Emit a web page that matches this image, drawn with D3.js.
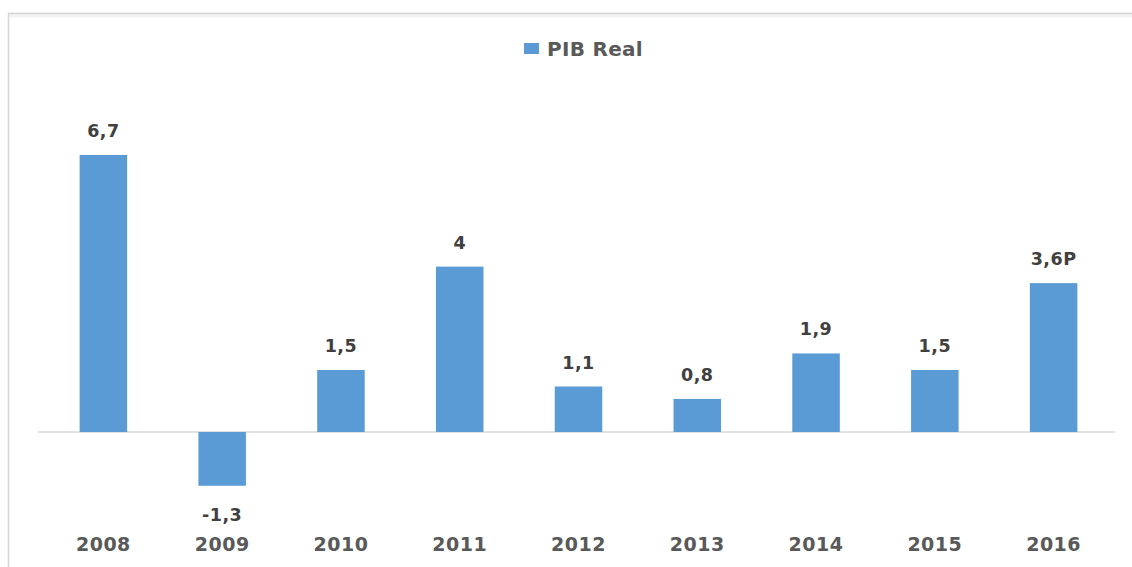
<!DOCTYPE html>
<html>
<head>
<meta charset="utf-8">
<script src="https://cdn.jsdelivr.net/npm/d3@7"></script>
<style>
  body { margin: 0; background: #ffffff; }
  svg { display: block; }
  .year text { font-family: "DejaVu Sans", sans-serif; font-weight: bold; font-size: 19px; letter-spacing: 0.5px; fill: #595959; }
  .valueLabel { font-family: "DejaVu Sans", sans-serif; font-weight: bold; font-size: 17.5px; letter-spacing: 0.5px; fill: #404040; }
  .legendText { font-family: "DejaVu Sans", sans-serif; font-weight: bold; font-size: 20px; letter-spacing: 0.3px; fill: #595959; }
</style>
</head>
<body>
<script>
// PIB Real per year
var years = ["2008", "2009", "2010", "2011", "2012", "2013", "2014", "2015", "2016"];
var pibReal = [6.7, -1.3, 1.5, 4, 1.1, 0.8, 1.9, 1.5, 3.6];
var valueLabels = ["6,7", "-1,3", "1,5", "4", "1,1", "0,8", "1,9", "1,5", "3,6P"];
var seriesName = "PIB Real";

var totalWidth = 1132;
var totalHeight = 567;
var barColor = "#5b9bd5";

var svg = d3.select("body")
            .append("svg")
            .attr("width", totalWidth)
            .attr("height", totalHeight);

// chart frame (top and left edges visible)
svg.append("line")
   .attr("x1", 8).attr("x2", totalWidth)
   .attr("y1", 13.5).attr("y2", 13.5)
   .attr("stroke", "#cfcfcf").attr("stroke-width", 1.5);
svg.append("line")
   .attr("x1", 9).attr("x2", totalWidth)
   .attr("y1", 16).attr("y2", 16)
   .attr("stroke", "#f2f2f2").attr("stroke-width", 3);
svg.append("line")
   .attr("x1", 8.5).attr("x2", 8.5)
   .attr("y1", 13).attr("y2", totalHeight)
   .attr("stroke", "#d6d6d6").attr("stroke-width", 1.5);

// scales
var xScale = d3.scaleBand()
               .domain(years)
               .range([44, 1113])
               .paddingInner(0.6)
               .paddingOuter(0.3);

var yScale = d3.scaleLinear()
               .domain([-2, 7.5])
               .range([432 + 2 * 41.35, 432 - 7.5 * 41.35]);

// zero line
svg.append("line")
   .attr("x1", 38).attr("x2", 1115)
   .attr("y1", yScale(0)).attr("y2", yScale(0))
   .attr("stroke", "#d9d9d9").attr("stroke-width", 1.5);

// bars
svg.selectAll(".bar")
   .data(pibReal)
   .enter()
   .append("rect")
   .attr("class", "bar")
   .attr("x", function(d, i) { return xScale(years[i]); })
   .attr("width", xScale.bandwidth())
   .attr("y", function(d) { return yScale(Math.max(0, d)); })
   .attr("height", function(d) { return Math.abs(yScale(d) - yScale(0)); })
   .attr("fill", barColor);

// value labels
svg.selectAll(".valueLabel")
   .data(pibReal)
   .enter()
   .append("text")
   .attr("class", "valueLabel")
   .attr("text-anchor", "middle")
   .attr("x", function(d, i) { return xScale(years[i]) + xScale.bandwidth() / 2; })
   .attr("y", function(d) { return d >= 0 ? yScale(d) - 18 : yScale(d) + 35; })
   .text(function(d, i) { return valueLabels[i]; });

// year axis
var xAxis = d3.axisBottom(xScale).tickSize(0).tickPadding(0);
var axisG = svg.append("g")
               .attr("class", "year")
               .attr("transform", "translate(0,537)")
               .call(xAxis);
axisG.select(".domain").remove();
axisG.selectAll("text").attr("dy", "0.75em").attr("font-family", null).attr("font-size", null);

// legend
var legend = svg.append("g").attr("class", "legend");
legend.append("rect")
      .attr("x", 524).attr("y", 43)
      .attr("width", 15).attr("height", 11)
      .attr("fill", barColor);
legend.append("text")
      .attr("class", "legendText")
      .attr("x", 547).attr("y", 56)
      .text(seriesName);
</script>
</body>
</html>
